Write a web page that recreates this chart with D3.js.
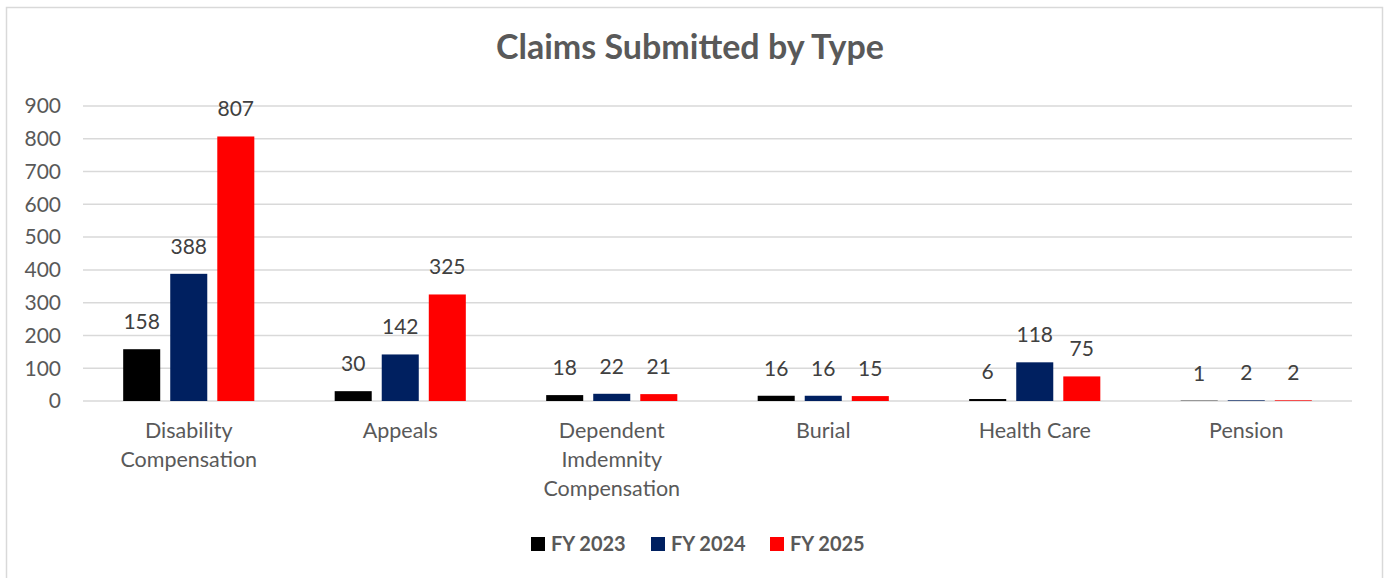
<!DOCTYPE html>
<html>
<head>
<meta charset="utf-8">
<script src="https://cdn.jsdelivr.net/npm/d3@7"></script>
<style>
  body { margin: 0; background: #fff; }
  text { font-family: Lato, "Open Sans", sans-serif; }
</style>
</head>
<body>
<svg id="chart"></svg>
<script>
// data
const categories = [
  ["Disability", "Compensation"],
  ["Appeals"],
  ["Dependent", "Imdemnity", "Compensation"],
  ["Burial"],
  ["Health Care"],
  ["Pension"]
];
const seriesNames = ["FY 2023", "FY 2024", "FY 2025"];
const fy2023 = [158, 30, 18, 16, 6, 1];
const fy2024 = [388, 142, 22, 16, 118, 2];
const fy2025 = [807, 325, 21, 15, 75, 2];
const yTicks = [0, 100, 200, 300, 400, 500, 600, 700, 800, 900];

const colors = ["#000000", "#002060", "#ff0000"];
const textColor = "#595959";

const width = 1386, height = 578;
const margin = { left: 83, right: 34, top: 106, bottom: 177 };

const svg = d3.select("#chart").attr("width", width).attr("height", height);

// outer frame
svg.append("rect")
  .attr("x", 6.5).attr("y", 7.5)
  .attr("width", 1376).attr("height", 580)
  .attr("fill", "#fff")
  .attr("stroke", "#d9d9d9")
  .attr("stroke-width", 1.5);

const catKeys = categories.map(c => c.join(" "));
const series = [fy2023, fy2024, fy2025];

const x0 = d3.scaleBand()
  .domain(catKeys)
  .range([margin.left, width - margin.right])
  .paddingInner(0.38)
  .paddingOuter(0.19);

const x1 = d3.scaleBand()
  .domain(seriesNames)
  .range([0, x0.bandwidth()])
  .paddingInner(0.213);

const y = d3.scaleLinear()
  .domain([0, 900])
  .range([height - margin.bottom, margin.top]);

// gridlines
svg.append("g")
  .selectAll("line")
  .data(yTicks)
  .join("line")
  .attr("x1", margin.left)
  .attr("x2", width - margin.right)
  .attr("y1", d => y(d))
  .attr("y2", d => y(d))
  .attr("stroke", "#d9d9d9")
  .attr("stroke-width", 1.5);

// y axis labels
svg.append("g")
  .selectAll("text")
  .data(yTicks)
  .join("text")
  .attr("x", 61)
  .attr("y", d => y(d))
  .attr("dy", "0.35em")
  .attr("text-anchor", "end")
  .attr("fill", textColor)
  .style("font-size", "21px")
  .text(d => d);

// bars
const groups = svg.append("g")
  .selectAll("g")
  .data(catKeys)
  .join("g")
  .attr("transform", d => `translate(${x0(d)},0)`);

groups.selectAll("rect")
  .data((d, i) => seriesNames.map((s, j) => ({ s, j, v: series[j][i] })))
  .join("rect")
  .attr("x", d => x1(d.s))
  .attr("y", d => y(d.v))
  .attr("width", x1.bandwidth())
  .attr("height", d => y(0) - y(d.v))
  .attr("fill", d => colors[d.j]);

groups.selectAll("text.val")
  .data((d, i) => seriesNames.map((s, j) => ({ s, j, v: series[j][i] })))
  .join("text")
  .attr("class", "val")
  .attr("x", d => x1(d.s) + x1.bandwidth() / 2)
  .attr("y", d => y(d.v) - 20)
  .attr("text-anchor", "middle")
  .attr("fill", "#404040")
  .style("font-size", "21px")
  .text(d => d.v);

// category labels
categories.forEach((lines, i) => {
  const cx = x0(catKeys[i]) + x0.bandwidth() / 2;
  const t = svg.append("text")
    .attr("text-anchor", "middle")
    .attr("fill", textColor)
    .style("font-size", "21.5px");
  lines.forEach((ln, k) => {
    t.append("tspan")
      .attr("x", cx)
      .attr("y", 438 + k * 29)
      .text(ln);
  });
});

// title
svg.append("text")
  .attr("x", 690)
  .attr("y", 59)
  .attr("text-anchor", "middle")
  .attr("fill", textColor)
  .style("font-size", "34px")
  .style("font-weight", "bold")
  .text("Claims Submitted by Type");

// legend
const legendX = [531, 651, 770];
const legend = svg.append("g")
  .selectAll("g")
  .data(seriesNames)
  .join("g")
  .attr("transform", (d, i) => `translate(${legendX[i]},537)`);

legend.append("rect")
  .attr("width", 14).attr("height", 14)
  .attr("fill", (d, i) => colors[i]);

legend.append("text")
  .attr("x", 20)
  .attr("y", 7)
  .attr("dy", "0.35em")
  .attr("fill", textColor)
  .style("font-size", "20px")
  .style("font-weight", "bold")
  .text(d => d);
</script>
</body>
</html>
